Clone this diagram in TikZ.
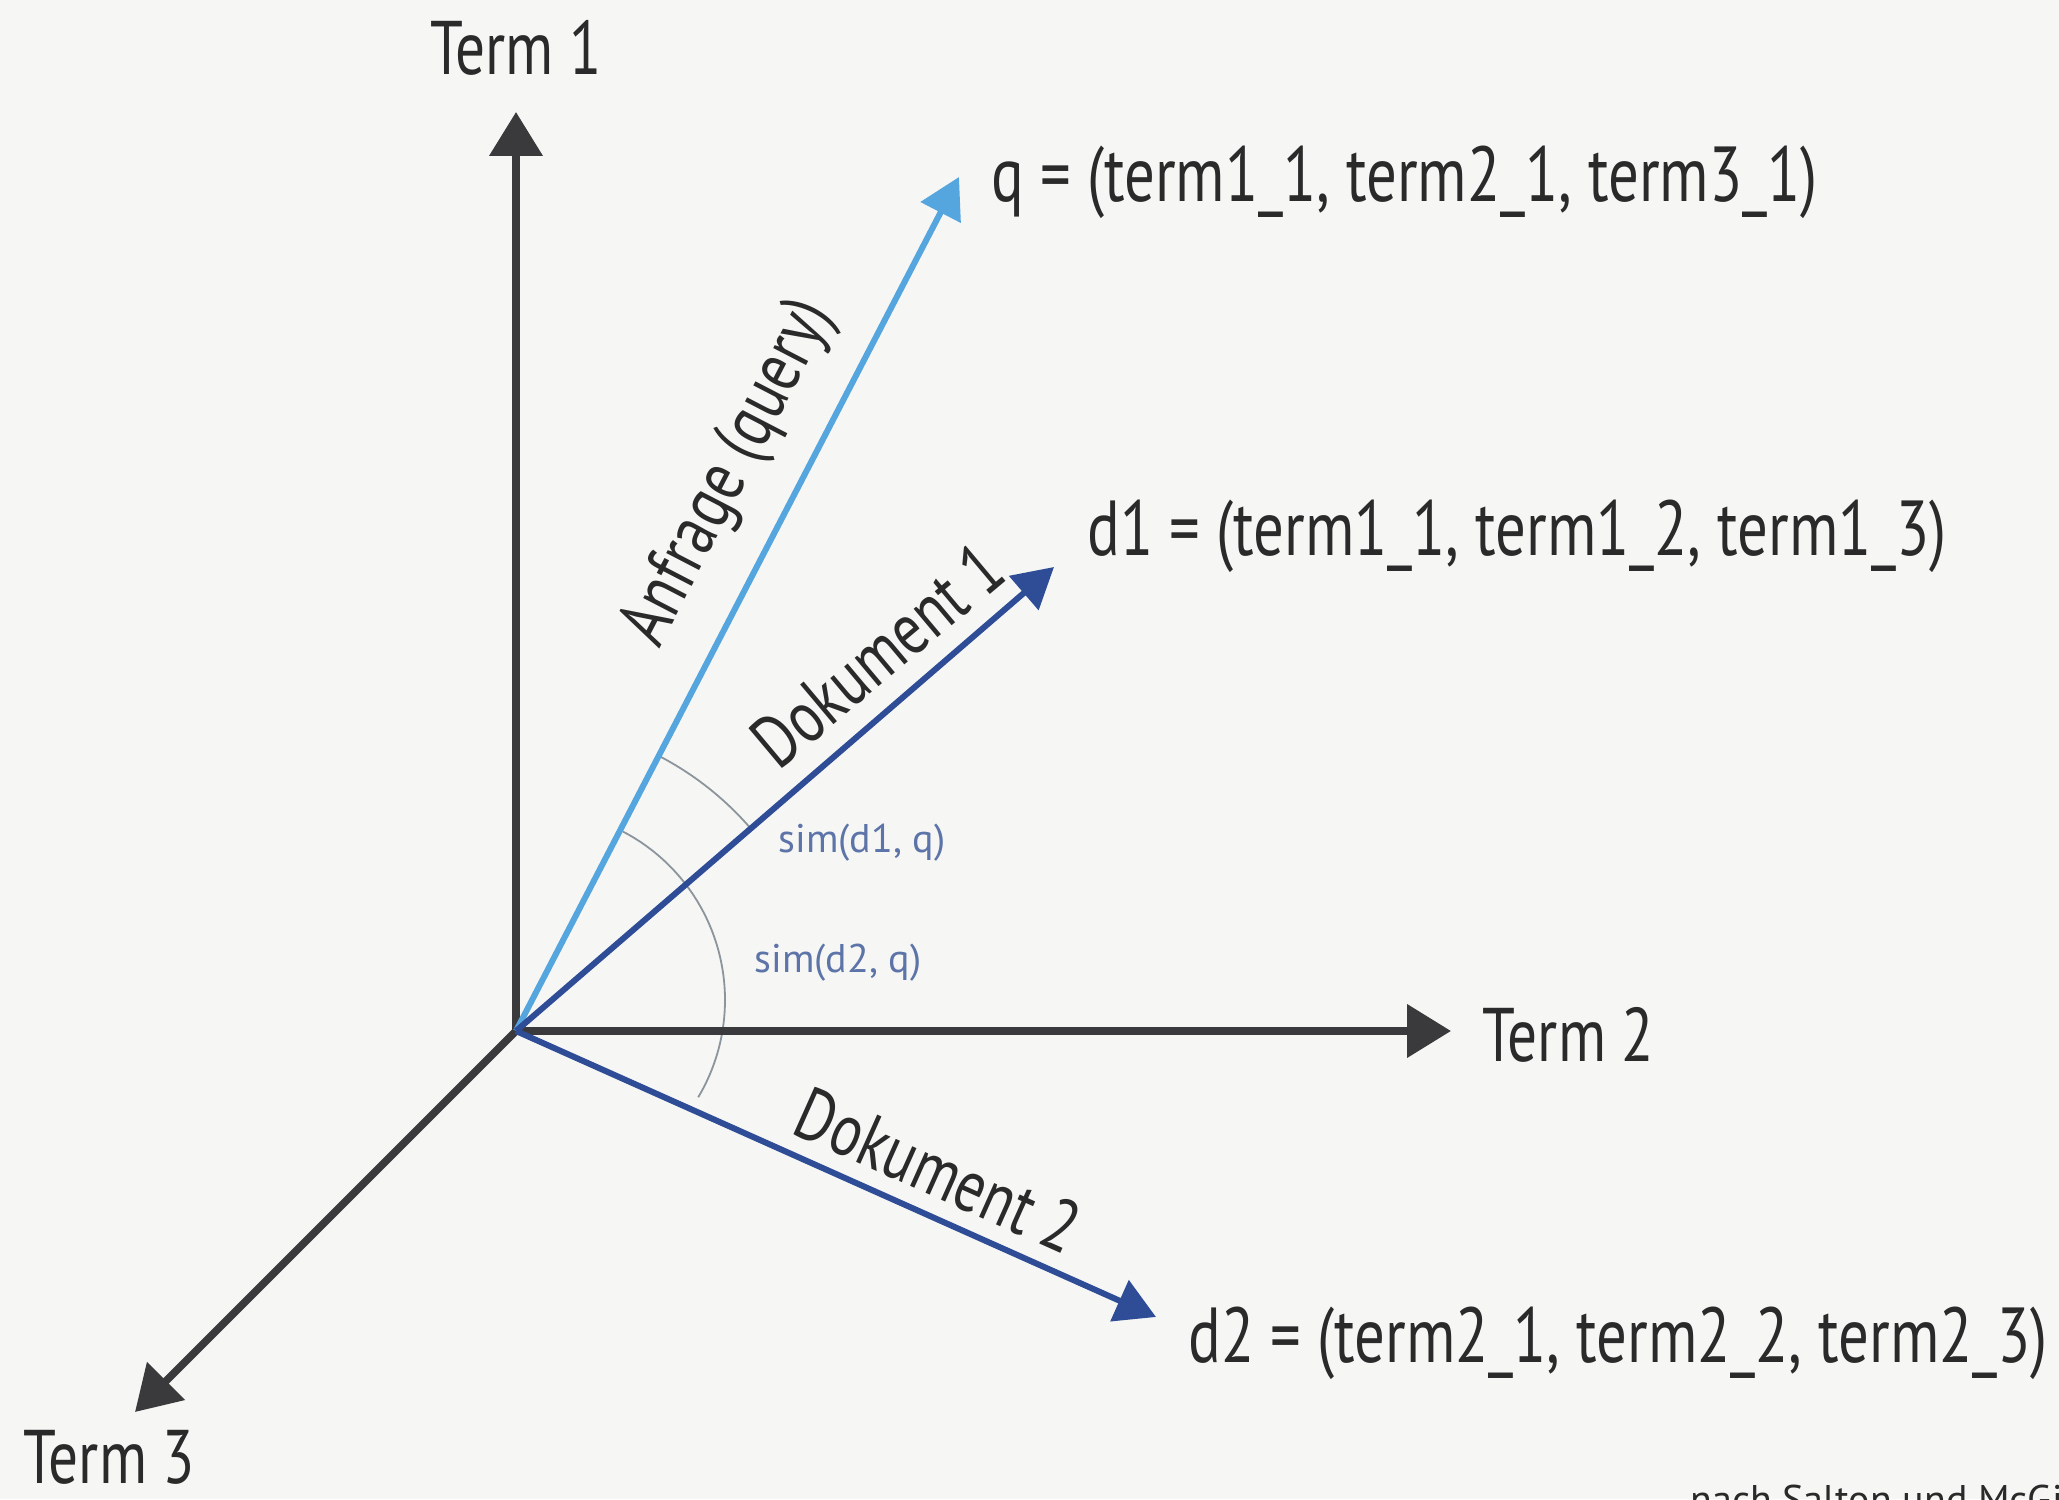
\documentclass[tikz,border=0pt]{standalone}
\usepackage{fontspec}
\setmainfont{PT Sans}[FakeStretch=0.78]
\newfontfamily\simfont{PT Sans}
\usetikzlibrary{arrows.meta}
\definecolor{bg}{HTML}{F6F6F4}
\definecolor{axis}{HTML}{3A3A3C}
\definecolor{qblue}{HTML}{55A5DF}
\definecolor{dblue}{HTML}{2F4C96}
\definecolor{arcgray}{HTML}{8C949C}
\definecolor{simblue}{HTML}{5C74A8}
\definecolor{txt}{HTML}{2A2A2A}
\begin{document}
\begin{tikzpicture}[x=0.5pt,y=0.5pt,
  axisarrow/.style={draw=axis, line width=3.8pt, -{Triangle[length=22pt,width=26pt]}},
  qarrow/.style={draw=qblue, line width=3pt, -{Triangle[length=20pt,width=22pt]}},
  darrow/.style={draw=dblue, line width=3pt, -{Triangle[length=20pt,width=22pt]}},
  arcline/.style={draw=arcgray, line width=0.9pt},
  termlbl/.style={inner sep=0pt, text=txt, font=\fontsize{38}{44}\selectfont},
  veclbl/.style={inner sep=0pt, text=txt, font=\fontsize{39}{46}\selectfont},
  rotlbl/.style={inner sep=0pt, text=txt, font=\fontsize{37}{44}\selectfont},
  simlbl/.style={inner sep=0pt, text=simblue, font=\simfont\fontsize{20}{24}\selectfont},
  srclbl/.style={inner sep=0pt, text=txt, font=\simfont\fontsize{20}{24}\selectfont}]
\useasboundingbox (0,0) rectangle (2059,1499);
\clip (0,0) rectangle (2059,1499);
\fill[bg] (0,0) rectangle (2059,1499);

\coordinate (O) at (516,468);
\coordinate (T1) at (516,1387);
\coordinate (T2) at (1451,468);
\coordinate (T3) at (135,87);
\coordinate (Q) at (959,1322);
\coordinate (D1) at (1054,932);
\coordinate (D2) at (1156,182);
\coordinate (C2) at (535,499);

% similarity arcs
\draw[arcline] ([shift={(62.6:155pt)}]O) arc[start angle=62.6, end angle=40.8, radius=155pt];
\draw[arcline] ([shift={(62.4:95pt)}]C2) arc[start angle=62.4, end angle=-30.8, radius=95pt];

% axes
\draw[axisarrow] (O) -- (T1);
\draw[axisarrow] (O) -- (T2);
\draw[axisarrow] (O) -- (T3);

% vectors
\draw[qarrow] (O) -- (Q);
\draw[darrow] (O) -- (D1);
\draw[darrow] (O) -- (D2);

% axis labels
\node[termlbl, anchor=base] (l1) at (516,1424) {Term 1};
\node[termlbl, anchor=base west] (l2) at (1482,437) {Term 2};
\node[termlbl, anchor=base west] (l3) at (23,16) {Term 3};

% vector labels
\node[veclbl, anchor=west] (lq) at (991,1317) {q = (term1\_1, term2\_1, term3\_1)};
\node[veclbl, anchor=west] (ld1) at (1087,963) {d1 = (term1\_1, term1\_2, term1\_3)};
\node[veclbl, anchor=west] (ld2) at (1188,156) {d2 = (term2\_1, term2\_2, term2\_3)};

% labels along vectors
\node[rotlbl, rotate=62.6] (rq) at (730,1026) {Anfrage (query)};
\node[rotlbl, rotate=40] (rd1) at (877,844) {Dokument 1};
\node[rotlbl, rotate=-24.1] (rd2) at (938,329) {Dokument 2};

% similarity labels
\node[simlbl] (s1) at (862,656) {sim(d1, q)};
\node[simlbl] (s2) at (838,536) {sim(d2, q)};

% source
\node[srclbl, anchor=base west] (src) at (1690,-14) {nach Salton und McGill};
\end{tikzpicture}
\end{document}
